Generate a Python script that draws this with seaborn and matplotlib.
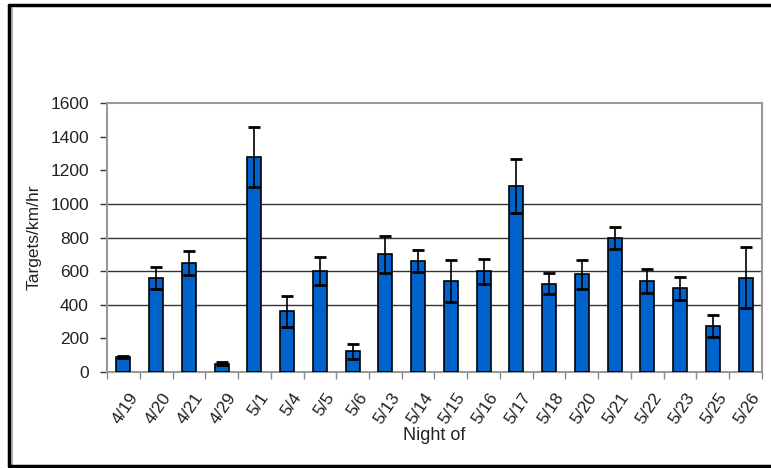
import matplotlib
matplotlib.use("Agg")
import matplotlib.pyplot as plt
import matplotlib.transforms as mtransforms
import seaborn as sns
import pandas as pd
import numpy as np
from matplotlib.lines import Line2D

nights = ["4/19", "4/20", "4/21", "4/29", "5/1", "5/4", "5/5", "5/6", "5/13", "5/14",
          "5/15", "5/16", "5/17", "5/18", "5/20", "5/21", "5/22", "5/23", "5/25", "5/26"]
targets = [87, 558, 648, 50, 1280, 360, 600, 123, 700, 660,
           542, 600, 1105, 525, 580, 797, 540, 497, 275, 562]
errors = [6, 65, 70, 8, 180, 90, 85, 45, 110, 65,
          127, 75, 160, 63, 87, 67, 70, 68, 64, 184]
y_ticks = [0, 200, 400, 600, 800, 1000, 1200, 1400, 1600]
grid_levels = [400, 600, 800, 1000]

df = pd.DataFrame({"Night": nights, "Targets": targets, "Err": errors})

sns.set_theme(style="white")
plt.rcParams["font.family"] = ["Liberation Sans", "DejaVu Sans"]

fig = plt.figure(figsize=(7.71, 4.68), dpi=100)
ax = fig.add_axes([0.1388, 0.2051, 0.8495, 0.5748])

sns.barplot(data=df, x="Night", y="Targets", color="#0063CC", saturation=1,
            width=0.43, edgecolor="black", linewidth=1.2, errorbar=None, ax=ax, zorder=3)
xs = [p.get_x() + p.get_width() / 2 for p in ax.patches]
ax.errorbar(xs, df["Targets"], yerr=df["Err"], fmt="none", ecolor="black",
            elinewidth=1.2, capsize=4, capthick=2, zorder=4)

for g in grid_levels:
    ax.axhline(g, color="#333333", lw=1.0, zorder=1)

ax.set_ylim(0, 1600)
ax.set_xlim(-0.5, len(nights) - 0.5)
ax.set_yticks(y_ticks)
ax.set_yticklabels([str(t) for t in y_ticks], fontsize=12.5, color="#222222")
ax.set_xticks(range(len(nights)))
ax.set_xticklabels(nights, rotation=56, ha="right", rotation_mode="anchor", fontsize=12.5, color="#222222")
ax.tick_params(axis="x", length=0, pad=13)
ax.tick_params(axis="y", length=5, width=1, color="#333333", direction="out", left=True, pad=8)
shift = mtransforms.ScaledTranslation(5 / 100, 0, fig.dpi_scale_trans)
for lbl in ax.get_xticklabels():
    lbl.set_transform(lbl.get_transform() + shift)
# boundary ticks between categories
ax.set_xticks(np.arange(-0.5, len(nights) + 0.5, 1), minor=True)
ax.tick_params(axis="x", which="minor", length=5, width=1, color="#888888", bottom=True, direction="out")

for s in ax.spines.values():
    s.set_color("#999999")
    s.set_linewidth(1.5)
    s.set_visible(True)

ax.set_xlabel("Night of", fontsize=13, labelpad=0, color="#222222")
ax.set_ylabel("Targets/km/hr", fontsize=12.5, labelpad=6, color="#222222")

# outer frame
fig.add_artist(Line2D([9 / 771, 9 / 771], [2 / 468, 463 / 468], color="black", lw=2.5, transform=fig.transFigure))
fig.add_artist(Line2D([12 / 771, 12 / 771], [2 / 468, 460 / 468], color="#999999", lw=1.2, transform=fig.transFigure))
fig.add_artist(Line2D([9 / 771, 1.0], [463 / 468, 463 / 468], color="black", lw=2.5, transform=fig.transFigure))
fig.add_artist(Line2D([9 / 771, 1.0], [2 / 468, 2 / 468], color="black", lw=2.5, transform=fig.transFigure))

fig.savefig("out.png", dpi=100, facecolor="white")
